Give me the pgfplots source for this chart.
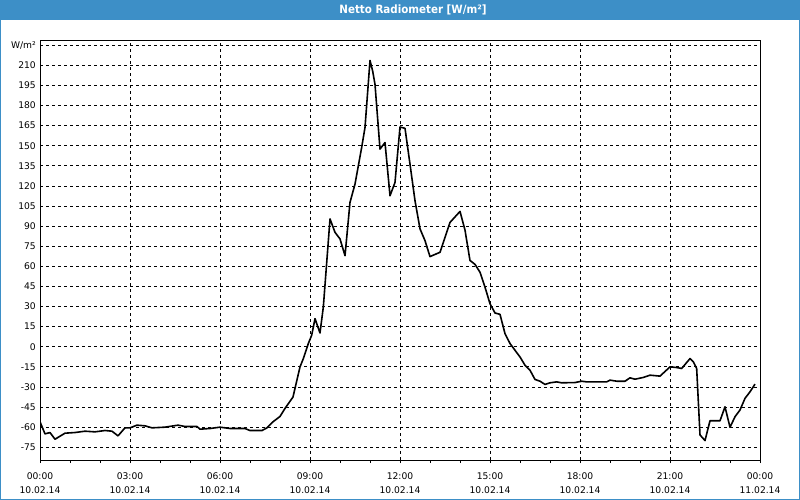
\documentclass[border=0pt]{standalone}
\usepackage{pgfplots}
\pgfplotsset{compat=1.18}
\usepackage{fontspec}
\setmainfont{DejaVu Sans}
\newfontfamily\titlefont{DejaVu Sans Condensed}
\definecolor{titlebar}{RGB}{61,143,199}
\begin{document}
\begin{tikzpicture}
\useasboundingbox (0bp,0bp) rectangle (800bp,500bp);
\fill[white] (0bp,0bp) rectangle (800bp,500bp);
\fill[titlebar] (0bp,479.5bp) rectangle (800bp,500bp);
\draw[titlebar, line width=1bp] (0.5bp,0.5bp) rectangle (799.5bp,499.5bp);
\node[text=white, font=\titlefont\bfseries\fontsize{11.5}{13}\selectfont] at (413bp,490bp) {Netto Radiometer [W/m²]};
\begin{axis}[
  at={(40bp,40bp)}, anchor=south west,
  scale only axis, width=720bp, height=419.3bp,
  xmin=0, xmax=24, ymin=-84.5, ymax=228.4,
  xtick={0,3,...,24}, minor xtick={1,2,...,23},
  xticklabels={{00:00\\10.02.14},{03:00\\10.02.14},{06:00\\10.02.14},{09:00\\10.02.14},{12:00\\10.02.14},{15:00\\10.02.14},{18:00\\10.02.14},{21:00\\10.02.14},{00:00\\11.02.14}},
  ytick={-75,-60,...,225},
  yticklabels={-75,-60,-45,-30,-15,0,15,30,45,60,75,90,105,120,135,150,165,180,195,210,W/m²},
  xtick pos=bottom, ytick pos=left,
  tick align=outside,
  major tick length=3bp, minor tick length=3bp,
  xtick style={black, line width=0.8bp},
  ytick style={draw=none},
  xmajorgrids, ymajorgrids,
  major grid style={black, line width=0.8bp, dash pattern=on 3bp off 3bp},
  axis line style={black, line width=1bp},
  xticklabel style={align=center, font=\fontsize{9.2}{14.3}\selectfont, inner sep=0pt, yshift=-9bp},
  yticklabel style={font=\fontsize{9.2}{11}\selectfont, inner sep=0pt, xshift=-1bp},
  axis background/.style={fill=white},
]
\addplot[black, line width=1.6bp, line join=round] coordinates {
(0,-56) (0.167,-65) (0.333,-64) (0.5,-69) (0.833,-64.5) (1.167,-64) (1.5,-63)
(1.833,-63.5) (2.167,-62.5) (2.4,-63) (2.6,-66.5) (2.833,-60.5) (3.0,-60.5)
(3.233,-58.5) (3.5,-59) (3.733,-60.5) (4.167,-60) (4.6,-58.5) (4.833,-59.5)
(5.233,-59.5) (5.333,-61.5) (5.667,-61) (6.0,-60) (6.333,-61) (6.833,-61)
(7.0,-62.5) (7.4,-62.5) (7.567,-60.5) (7.767,-56) (8.0,-52) (8.167,-46)
(8.433,-37.5) (8.667,-15) (8.778,-8.8) (8.944,2.4) (9.056,8.6) (9.167,21)
(9.333,10.3) (9.444,29.6) (9.667,95.4) (9.833,85.4) (10.0,80.5) (10.167,68)
(10.333,107.7) (10.5,121.4) (10.722,148.7) (10.833,163.5) (11.0,213.7)
(11.089,205.7) (11.167,195.8) (11.333,147.5) (11.5,152.4) (11.667,112.7)
(11.833,122.6) (12.0,164) (12.167,163) (12.333,136.3) (12.5,109) (12.667,88)
(12.833,79.2) (13.0,67.3) (13.333,70.5) (13.667,92.8) (14.0,101) (14.167,87)
(14.333,64.4) (14.5,61.5) (14.667,55.6) (14.833,44.5) (15.0,32.1) (15.167,25.2)
(15.333,24.2) (15.5,9.8) (15.667,2.4) (15.833,-2.6) (16.0,-7.6) (16.167,-13.8)
(16.333,-17.5) (16.5,-24.4) (16.667,-25.7) (16.833,-28.1) (17.0,-26.9)
(17.222,-26.2) (17.389,-26.9) (17.833,-26.7) (18.056,-25.7) (18.222,-26.2)
(18.889,-26.2) (19.0,-24.9) (19.222,-25.7) (19.5,-25.7) (19.667,-23.2)
(19.833,-24.2) (20.111,-22.9) (20.333,-21.2) (20.667,-21.9) (21.0,-15)
(21.222,-15.5) (21.389,-16.2) (21.667,-8.8) (21.778,-11.3) (21.889,-16.2)
(22.0,-65.8) (22.167,-70) (22.333,-55.2) (22.667,-55.2) (22.833,-44.8)
(23.0,-60.1) (23.167,-52.2) (23.333,-47.2) (23.5,-38.5) (23.667,-33.6)
(23.833,-27.9)
};
\end{axis}
\end{tikzpicture}
\end{document}
